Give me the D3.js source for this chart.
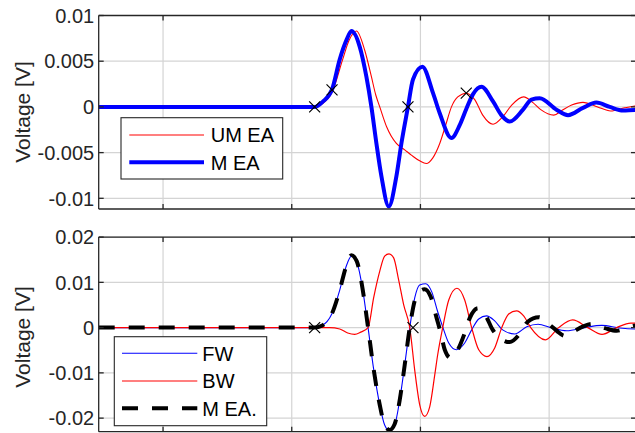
<!DOCTYPE html>
<html>
<head>
<meta charset="utf-8">
<script src="https://cdn.jsdelivr.net/npm/d3@7/dist/d3.min.js"></script>
<style>
  body { margin: 0; background: #fff; }
  svg { display: block; font-family: "Liberation Sans", Arial, Helvetica, sans-serif; }
</style>
</head>
<body>
<svg id="chart" width="635" height="433"></svg>
<script>
// ---- x axis (sample index) ----
const xDomain = [50, 467.5];
const xTicks = [100, 200, 300, 400];

// ---- upper panel: unmatched vs matched equivalent signal [sample, V] ----
const topYTicks = [0.01, 0.005, 0, -0.005, -0.01];
const topYLabels = ["0.01", "0.005", "0", "-0.005", "-0.01"];

const umEA = [
  [50, 0], [218, 0], [220.2, 0.0001], [224.3, 0.0004], [231.3, 0.0016], [239.6, 0.0052],
  [244.3, 0.0072], [250.3, 0.0083], [256.7, 0.0062], [261.9, 0.0033], [265.3, 0.0013],
  [268.4, 0], [273.8, -0.0022], [281.3, -0.0040], [287.8, -0.0047], [293.2, -0.0053],
  [299.4, -0.0059], [304.6, -0.0062], [309.5, -0.0056], [315.0, -0.0040], [319.6, -0.0020],
  [324.1, 0], [329.0, 0.0011], [335.7, 0.0015], [342.2, 0.0008], [348.4, -0.0009],
  [356.4, -0.0019], [363.9, -0.0011], [370.9, 0.0002], [380.2, 0.0011], [387.2, 0.0005],
  [393.5, -0.0003], [403.6, -0.0009], [409.8, -0.0004], [417.5, 0.0002], [426.3, 0.0005],
  [437.7, 0], [447.8, -0.00044], [458.7, -0.0001], [466.5, 0.0001], [467.5, 0.00012]
];

const mEA = [
  [50, 0], [217.8, 0], [224.3, 0.0006], [231.3, 0.0019], [237.3, 0.0052], [242.5, 0.0073],
  [246.4, 0.0083], [252.8, 0.0066], [258.0, 0.0033], [261.9, 0], [265.8, -0.0040],
  [269.7, -0.0076], [275.4, -0.0109], [281.3, -0.0076], [285.2, -0.0040], [290.3, 0],
  [294.2, 0.0030], [301.5, 0.0044], [309.8, 0.0015], [315.0, -0.0007], [324.1, -0.0034],
  [330.5, -0.0020], [335.7, -0.0002], [340.9, 0.0014], [347.4, 0.0022], [356.4, 0.0006],
  [362.9, -0.0009], [369.4, -0.0016], [379.7, -0.0003], [386.2, 0.0008], [392.7, 0.00095],
  [405.7, -0.0003], [414.7, -0.0009], [426.3, -0.0001], [436.7, 0.00047], [447.1, 0],
  [457.4, -0.0004], [466.5, -0.00033], [467.5, -0.00033]
];

const topMarks = [[217.8, 0], [231.3, 0.00186], [290.3, 0], [335.6, 0.0015]];

// ---- lower panel: forward / backward waves and matched signal [sample, V] ----
const botYTicks = [0.02, 0.01, 0, -0.01, -0.02];
const botYLabels = ["0.02", "0.01", "0", "-0.01", "-0.02"];

const fw = [
  [50, 0], [217.8, 0], [223.3, 0.0004], [231.1, 0.0030], [237.3, 0.0083], [241.9, 0.0132],
  [246.4, 0.0158], [250.5, 0.0145], [255.2, 0.0083], [259.3, 0], [263.7, -0.0093],
  [268.4, -0.0171], [272.2, -0.0215], [276.1, -0.0228], [280.0, -0.0215], [283.9, -0.0160],
  [287.8, -0.0082], [291.7, 0], [295.6, 0.0066], [299.4, 0.0094], [304.1, 0.0097],
  [308.8, 0.0079], [313.4, 0.0035], [317.5, 0], [322.0, -0.0034], [328.0, -0.0049],
  [334.4, -0.0034], [339.8, -0.0005], [345.3, 0.0019], [351.3, 0.0026], [357.7, 0.0015],
  [363.9, -0.0005], [373.3, -0.0014], [382.6, 0.0002], [391.4, 0.00075], [402.0, -0.0001],
  [413.7, -0.0007], [427.6, 0], [440.9, 0.0005], [454.8, -0.0001], [466.5, -0.0003],
  [467.5, -0.0003]
];

const bw = [
  [50, 0], [217.8, 0], [229.5, 0], [237.3, -0.0003], [243.5, -0.0012], [248.9, -0.0015],
  [253.6, -0.0010], [259.3, 0], [263.7, 0.0067], [268.4, 0.0125], [272.2, 0.0158],
  [275.6, 0.0163], [279.2, 0.0154], [283.1, 0.0105], [287.0, 0.0050], [291.7, 0],
  [295.6, -0.0095], [299.4, -0.0170], [303.3, -0.0196], [307.2, -0.0175], [311.1, -0.0105],
  [313.4, -0.0060], [317.3, 0], [322.0, 0.0061], [328.4, 0.0087], [334.4, 0.0061],
  [339.8, 0], [345.3, -0.0049], [351.7, -0.0064], [357.7, -0.0045], [363.2, 0],
  [368.6, 0.0030], [374.6, 0.0037], [380.2, 0.0026], [385.7, 0], [397.1, -0.0027],
  [407.4, 0], [418.3, 0.0017], [430.0, 0], [441.1, -0.0015], [452.5, 0], [463.4, 0.0010],
  [467.5, 0.0010]
];

const mEAdot = [
  [50, 0], [217.8, 0], [223.3, 0.0004], [231.1, 0.0030], [237.3, 0.0083], [241.9, 0.0132],
  [246.4, 0.0160], [250.5, 0.0147], [255.2, 0.0083], [259.3, 0], [263.7, -0.0093],
  [268.4, -0.0171], [272.2, -0.0215], [276.1, -0.0226], [280.0, -0.0213], [283.9, -0.0160],
  [287.8, -0.0082], [291.7, 0], [295.6, 0.0060], [299.4, 0.0080], [303.3, 0.0085],
  [308.0, 0.0068], [312.6, 0.0021], [315.8, -0.0012], [318.9, -0.0049], [323.5, -0.0067],
  [329.0, -0.0049], [334.4, -0.0012], [338.3, 0.0021], [344.7, 0.0043], [350.7, 0.0026],
  [356.2, -0.0005], [361.6, -0.0023], [369.4, -0.0032], [377.1, -0.0014], [383.4, 0.0013],
  [391.9, 0.0023], [400.5, 0.0006], [405.9, -0.0007], [412.1, -0.0018], [419.9, -0.0007],
  [426.1, 0.0002], [433.1, 0.0008], [443.2, -0.0001], [452.5, -0.0007], [461.1, 0],
  [466.5, 0.0004], [467.5, 0.0004]
];

const botMarks = [[217.8, 0], [294.2, 0]];

// ---- drawing ----
const svg = d3.select("#chart");
const axisColor = "#262626";
const gridColor = "#d4d4d4";
const fontSize = 20;

const x = d3.scaleLinear().domain(xDomain).range([98.7, 636]);

const panels = [
  {
    id: "top", y0: 15.5, y1: 209, yDomain: [-0.01117, 0.01],
    ticks: topYTicks, labels: topYLabels, marks: topMarks, ylabelY: 112,
    series: [
      { data: umEA, color: "#ff0000", width: 1.1 },
      { data: mEA, color: "#0000ff", width: 4 }
    ],
    legend: {
      box: [121, 117.7, 282.7, 179], lineX: [129.3, 204], textX: 210.7,
      items: [
        { label: "UM EA", y: 135, color: "#ff0000", width: 1.1 },
        { label: "M EA", y: 162.3, color: "#0000ff", width: 4 }
      ]
    }
  },
  {
    id: "bot", y0: 237.1, y1: 431.7, yDomain: [-0.023, 0.02],
    ticks: botYTicks, labels: botYLabels, marks: botMarks, ylabelY: 337,
    series: [
      { data: fw, color: "#0000ff", width: 1.1 },
      { data: bw, color: "#ff0000", width: 1.2 },
      { data: mEAdot, color: "#000000", width: 4, dash: "16,14" }
    ],
    legend: {
      box: [114.3, 336.7, 266.7, 425.7], lineX: [122, 197.3], textX: 202.3,
      items: [
        { label: "FW", y: 353.3, color: "#0000ff", width: 1.1 },
        { label: "BW", y: 381, color: "#ff0000", width: 1.2 },
        { label: "M EA.", y: 408.3, color: "#000000", width: 4, dash: "16,14" }
      ]
    }
  }
];

panels.forEach(p => {
  const y = d3.scaleLinear().domain(p.yDomain).range([p.y1, p.y0]);
  const [xl, xr] = x.range();
  const g = svg.append("g").attr("class", "panel-" + p.id);

  g.append("clipPath").attr("id", "clip-" + p.id)
    .append("rect").attr("x", xl).attr("y", p.y0).attr("width", xr - xl).attr("height", p.y1 - p.y0);

  // grid
  const grid = g.append("g").attr("class", "grid");
  grid.selectAll(".gx").data(xTicks).join("line")
    .attr("x1", d => x(d)).attr("x2", d => x(d)).attr("y1", p.y0).attr("y2", p.y1)
    .attr("stroke", gridColor).attr("stroke-width", 1.2);
  grid.selectAll(".gy").data(p.ticks).join("line")
    .attr("x1", xl).attr("x2", xr).attr("y1", d => y(d)).attr("y2", d => y(d))
    .attr("stroke", gridColor).attr("stroke-width", 1.2);

  // series
  const line = d3.line().x(d => x(d[0])).y(d => y(d[1])).curve(d3.curveMonotoneX);
  const plot = g.append("g").attr("clip-path", `url(#clip-${p.id})`);
  p.series.forEach(s => {
    plot.append("path").datum(s.data)
      .attr("d", line).attr("fill", "none")
      .attr("stroke", s.color).attr("stroke-width", s.width)
      .attr("stroke-linejoin", "round")
      .attr("stroke-dasharray", s.dash || null);
  });

  // x markers
  plot.selectAll(".mk").data(p.marks).join("path")
    .attr("transform", d => `translate(${x(d[0])},${y(d[1])})`)
    .attr("d", "M-5.5,-5.5L5.5,5.5M-5.5,5.5L5.5,-5.5")
    .attr("stroke", "#000").attr("stroke-width", 1.2).attr("fill", "none");

  // axes box and inward ticks
  const ax = g.append("g").attr("stroke", axisColor).attr("stroke-width", 1.3).attr("fill", "none");
  ax.append("line").attr("x1", xl).attr("x2", xr).attr("y1", p.y0).attr("y2", p.y0);
  ax.append("line").attr("x1", xl).attr("x2", xr).attr("y1", p.y1).attr("y2", p.y1);
  ax.append("line").attr("x1", xl).attr("x2", xl).attr("y1", p.y0).attr("y2", p.y1);
  ax.append("line").attr("x1", xr).attr("x2", xr).attr("y1", p.y0).attr("y2", p.y1);
  const tl = 5;
  p.ticks.forEach(t => {
    ax.append("line").attr("x1", xl).attr("x2", xl + tl).attr("y1", y(t)).attr("y2", y(t));
    ax.append("line").attr("x1", xr - tl).attr("x2", xr).attr("y1", y(t)).attr("y2", y(t));
  });
  xTicks.forEach(t => {
    ax.append("line").attr("x1", x(t)).attr("x2", x(t)).attr("y1", p.y1).attr("y2", p.y1 - tl);
    ax.append("line").attr("x1", x(t)).attr("x2", x(t)).attr("y1", p.y0).attr("y2", p.y0 + tl);
  });

  // y tick labels
  g.selectAll(".tl").data(p.ticks).join("text")
    .attr("x", xl - 4.5).attr("y", d => y(d)).attr("dy", "0.36em")
    .attr("text-anchor", "end").attr("font-size", fontSize).attr("fill", axisColor)
    .text((d, i) => p.labels[i]);

  // y axis title
  g.append("text")
    .attr("transform", `translate(30,${p.ylabelY}) rotate(-90)`)
    .attr("text-anchor", "middle").attr("font-size", 21).attr("fill", axisColor)
    .text("Voltage [V]");

  // legend
  const L = p.legend;
  const lg = g.append("g").attr("class", "legend");
  lg.append("rect").attr("x", L.box[0]).attr("y", L.box[1])
    .attr("width", L.box[2] - L.box[0]).attr("height", L.box[3] - L.box[1])
    .attr("fill", "#fff").attr("stroke", axisColor).attr("stroke-width", 1.1);
  L.items.forEach(it => {
    lg.append("line").attr("x1", L.lineX[0]).attr("x2", L.lineX[1]).attr("y1", it.y).attr("y2", it.y)
      .attr("stroke", it.color).attr("stroke-width", it.width)
      .attr("stroke-dasharray", it.dash || null);
    lg.append("text").attr("x", L.textX).attr("y", it.y).attr("dy", "0.36em")
      .attr("font-size", fontSize).attr("fill", "#000").text(it.label);
  });
});
</script>
</body>
</html>
